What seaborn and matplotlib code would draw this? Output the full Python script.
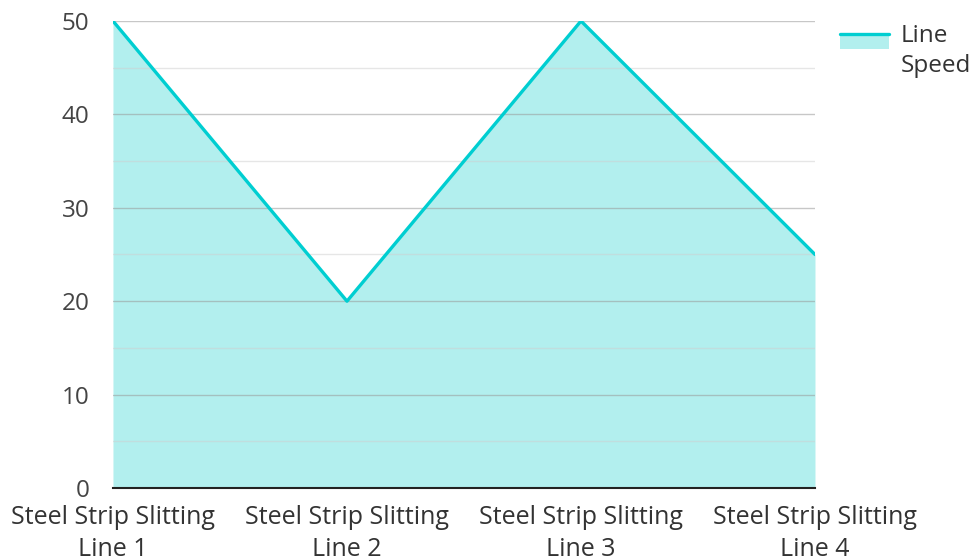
import numpy as np
import pandas as pd
import matplotlib
matplotlib.use('Agg')
import matplotlib.pyplot as plt
import seaborn as sns
from matplotlib.legend_handler import HandlerBase
from matplotlib.patches import Rectangle
from matplotlib.lines import Line2D

categories = ['Steel Strip Slitting\nLine 1', 'Steel Strip Slitting\nLine 2',
              'Steel Strip Slitting\nLine 3', 'Steel Strip Slitting\nLine 4']
line_speed = [50, 20, 50, 25]
series_name = 'Line\nSpeed'

LINE_COLOR = '#00CED1'
FILL_COLOR = '#B2EFEE'
FS = 17.5

sns.set_style('white')
plt.rcParams['font.family'] = ['Open Sans', 'DejaVu Sans']
plt.rcParams['font.size'] = FS


class AreaHandler(HandlerBase):
    # line on top of a filled block, like the reference legend swatch
    def create_artists(self, legend, orig_handle, xdescent, ydescent,
                       width, height, fontsize, trans):
        shift = 0.41 * fontsize
        top = height * 0.85 + shift
        bottom = top - 0.6 * fontsize
        rect = Rectangle((-xdescent, bottom - ydescent), width, top - bottom,
                         facecolor=FILL_COLOR, edgecolor='none', transform=trans)
        line = Line2D([-xdescent, width - xdescent], [top - ydescent] * 2,
                      color=LINE_COLOR, lw=2.4, transform=trans)
        return [rect, line]


def main():
    df = pd.DataFrame({'x': np.arange(len(categories)), 'speed': line_speed})

    fig = plt.figure(figsize=(9.73, 5.6), dpi=100)
    ax = fig.add_axes([0.1161, 0.1286, 0.7215, 0.8339])

    ax.fill_between(df['x'], df['speed'], 0, color=FILL_COLOR, lw=0, zorder=1)
    sns.lineplot(data=df, x='x', y='speed', ax=ax, color=LINE_COLOR,
                 lw=2.4, zorder=4, legend=False)

    ax.set_xlim(0, len(categories) - 1)
    ax.set_ylim(0, 50)
    ax.set_xticks(df['x'])
    ax.set_xticklabels(categories, color='#333333', fontsize=FS + 0.5,
                       linespacing=1.4)
    ax.set_yticks(np.arange(0, 51, 10))
    ax.set_yticks(np.arange(5, 50, 10), minor=True)
    ax.tick_params(axis='y', which='both', length=0, pad=17, labelcolor='#444444',
                   labelsize=FS)
    ax.tick_params(axis='x', length=0, pad=12)
    ax.set_xlabel('')
    ax.set_ylabel('')

    ax.grid(axis='y', which='major', color='#9a9a9a', alpha=0.55, lw=1, zorder=2)
    ax.grid(axis='y', which='minor', color='#cfcfcf', alpha=0.5, lw=1, zorder=2)
    ax.set_axisbelow(False)

    for s in ['top', 'right', 'left']:
        ax.spines[s].set_visible(False)
    ax.spines['bottom'].set_color('#222222')
    ax.spines['bottom'].set_linewidth(1.5)
    ax.spines['bottom'].set_zorder(5)

    leg = ax.legend([object()], [series_name], handler_map={object: AreaHandler()},
                    loc='upper left', bbox_to_anchor=(1.0356, 0.9936), frameon=False,
                    borderpad=0, borderaxespad=0, fontsize=FS, handlelength=2.0,
                    handleheight=1.0, handletextpad=0.5, labelcolor='#333333')
    for t in leg.get_texts():
        t.set_linespacing(1.35)

    fig.savefig('out.png', dpi=100)
    plt.close(fig)


if __name__ == "__main__":
    main()
